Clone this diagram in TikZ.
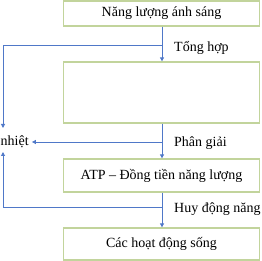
\documentclass[tikz,border=0pt]{standalone}
\usepackage{fontspec}
\setmainfont{Liberation Serif}
\usetikzlibrary{arrows.meta,positioning}
\definecolor{Olive}{HTML}{C2D49C}
\definecolor{LineBlue}{HTML}{4F78C8}
\tikzset{
  stagebox/.style={draw=Olive,line width=1.3pt,fill=white,minimum width=196pt,
              inner sep=0pt,font=\fontsize{14}{16}\selectfont},
  flow/.style={-{Triangle[length=4pt,width=4pt]},line width=0.9pt,draw=LineBlue},
  note/.style={font=\fontsize{14}{16}\selectfont,anchor=west,inner sep=0pt}
}
\begin{document}
\begin{tikzpicture}[x=1pt,y=-1pt]
  \useasboundingbox (0,0) rectangle (261,261);
  \node[stagebox,minimum height=25pt] (light) at (161.5,13.5) {Năng lượng ánh sáng};
  \node[stagebox,minimum height=61pt] (organic) at (161.5,92.5) {};
  \node[stagebox,minimum height=33pt] (atp) at (161.5,175.5) {ATP -- Đồng tiền năng lượng};
  \node[stagebox,minimum height=32pt] (life) at (161.5,244) {Các hoạt động sống};
  \node[note] (heat) at (0.5,142) {nhiệt};
  % branch points on the main line
  \coordinate (split1) at (162,45);
  \coordinate (split2) at (162,142);
  \coordinate (split3) at (162,207);
  \coordinate (left1) at (3,45);
  \coordinate (down1) at (3,128);
  \coordinate (left3) at (3,207);
  \coordinate (up3) at (3,152);
  \draw[flow] (light.south -| split1) -- (organic.north -| split1);
  \draw[flow] (organic.south -| split1) -- (atp.north -| split1);
  \draw[flow] (atp.south -| split1) -- (life.north -| split1);
  \draw[flow] (split1) -- (left1) -- (down1);
  \draw[flow] (split2) -- ([xshift=3pt]heat.east);
  \draw[flow] (split3) -- (left3) -- (up3);
  \node[note] (synth) at (174,48) {Tổng hợp};
  \node[note] (decomp) at (174,143) {Phân giải};
  \node[note] (mobil) at (174,209) {Huy động năng};
\end{tikzpicture}
\end{document}
